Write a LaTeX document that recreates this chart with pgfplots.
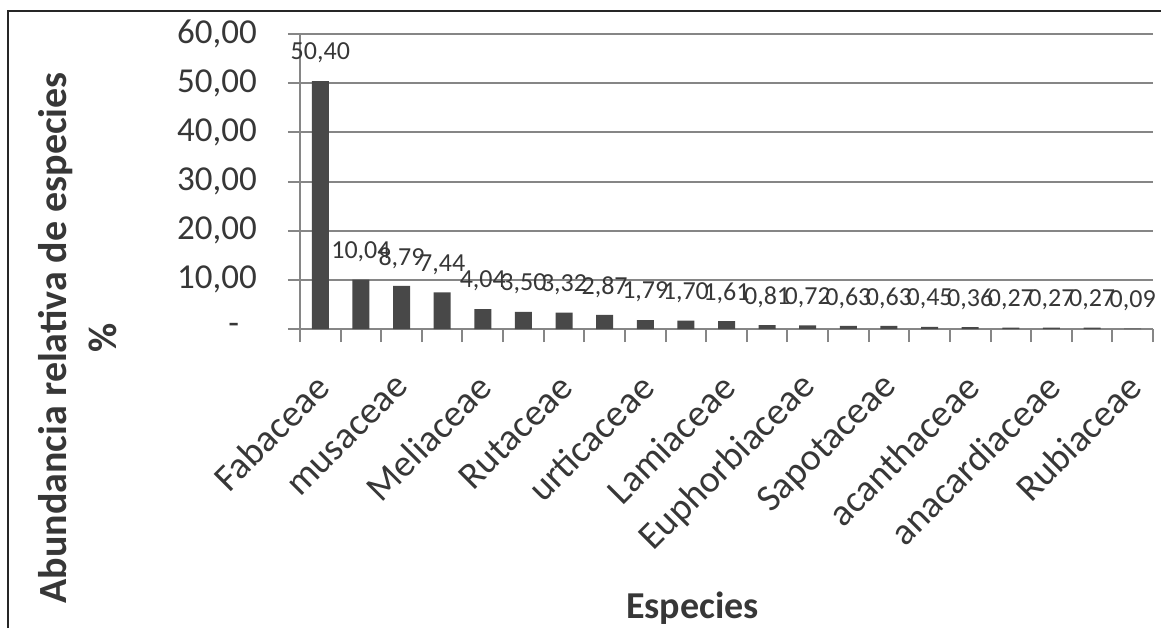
\documentclass[border=0pt]{standalone}
\usepackage{pgfplots}
\pgfplotsset{compat=1.18}
\usepackage{fontspec}
\setmainfont{Carlito}

\definecolor{barc}{RGB}{72,72,72}
\definecolor{txt}{RGB}{55,55,55}
\definecolor{gridc}{RGB}{134,134,134}

\begin{document}
\begin{tikzpicture}
\path[use as bounding box] (0,0) rectangle (580.5pt,314pt);
\draw[line width=1pt, black!85] (4pt,0) -- (4pt,308.5pt) -- (580.5pt,308.5pt);
\begin{axis}[
    at={(150pt,149.5pt)},
    scale only axis,
    width=426.5pt, height=147.5pt,
    xmin=0.5, xmax=21.5,
    ymin=0, ymax=60,
    ybar, bar width=8.5pt,
    axis x line*=bottom, axis y line*=left,
    axis line style={-, gridc, line width=1pt},
    ymajorgrids=true,
    grid style={gridc, line width=1pt},
    tick align=outside,
    major tick length=6pt,
    ytick={0,10,...,60},
    yticklabels={{-\hphantom{0}},{10,00},{20,00},{30,00},{40,00},{50,00},{60,00}},
    ytick style={gridc, line width=1pt},
    yticklabel style={font=\fontsize{17.5}{20}\selectfont, text=txt, xshift=-12pt},
    xtick={1,3,...,21},
    xticklabels={Fabaceae, musaceae, Meliaceae, Rutaceae, urticaceae, Lamiaceae,
                 Euphorbiaceae, Sapotaceae, acanthaceae, anacardiaceae, Rubiaceae},
    major x tick style={draw=none},
    minor xtick={0.5,1.5,...,21.5},
    minor tick length=6.5pt,
    minor x tick style={gridc, line width=1pt},
    xticklabel style={rotate=45, anchor=east, font=\fontsize{19}{21}\selectfont, text=txt,
                      yshift=-15pt, xshift=-10pt},
    xlabel={Especies},
    xlabel style={font=\bfseries\fontsize{19}{22}\selectfont, text=txt,
                  at={(axis description cs:0.46,-0.945)}, anchor=center},
    ylabel={Abundancia relativa de especies\\\%},
    ylabel style={align=center, font=\bfseries\fontsize{20}{25}\selectfont, text=txt,
                  at={(axis description cs:-0.261,-0.03)}, anchor=center},
    nodes near coords={\pgfmathprintnumber[fixed,fixed zerofill,precision=2,use comma,assume math mode=true]{\pgfplotspointmeta}},
    nodes near coords style={font=\fontsize{13}{15}\selectfont, text=txt, anchor=center, yshift=14pt},
]
\addplot[fill=barc, draw=none] coordinates {
    (1,50.40) (2,10.04) (3,8.79) (4,7.44) (5,4.04) (6,3.50) (7,3.32)
    (8,2.87) (9,1.79) (10,1.70) (11,1.61) (12,0.81) (13,0.72) (14,0.63)
    (15,0.63) (16,0.45) (17,0.36) (18,0.27) (19,0.27) (20,0.27) (21,0.09)
};
\end{axis}
\end{tikzpicture}
\end{document}
